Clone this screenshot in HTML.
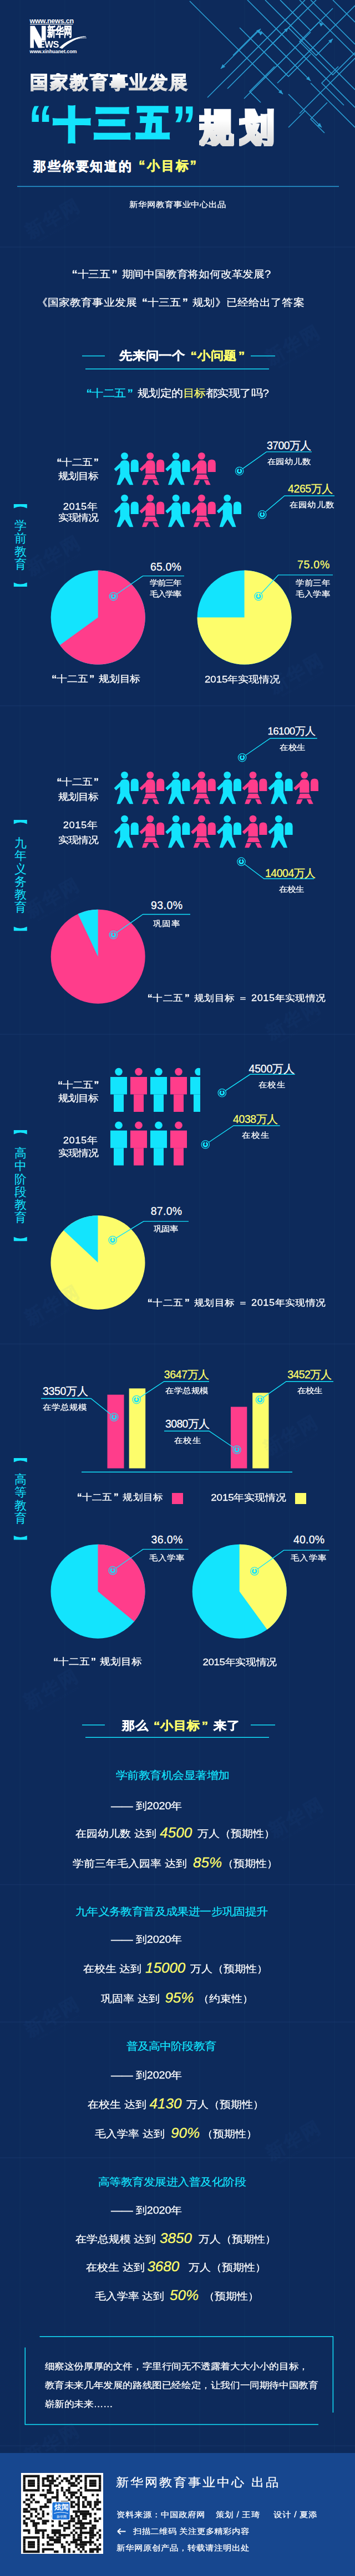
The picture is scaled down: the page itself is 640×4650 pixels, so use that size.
<!DOCTYPE html><html><head><meta charset="utf-8"><style>
html,body{margin:0;padding:0}
body{width:640px;height:4650px;position:relative;overflow:hidden;background:#0d2a5b;font-family:"Liberation Sans",sans-serif}
.t{position:absolute;line-height:1;white-space:nowrap;z-index:3}
.c{width:800px;text-align:center}
.r{width:800px;text-align:right}
.y{color:#fdfd6b} .cy{color:#13e4fd} .lq{font-weight:bold;margin-left:.42em;margin-right:0} .rq{font-weight:bold;margin-left:.12em;margin-right:.4em}
svg.full{position:absolute;left:0;top:0;z-index:2}
</style></head><body>
<div class="t" style="left:53.5px;top:32px;font-size:12.6px;color:#fff;font-weight:bold;letter-spacing:-0.25px">www.news.cn</div>
<div class="t" style="left:84.5px;top:46px;font-size:23px;color:#fff;transform:scaleX(0.66);transform-origin:0 0;font-weight:bold;-webkit-text-stroke:0.6px #fff">新华网</div>
<div class="t" style="left:70px;top:72.5px;font-size:16.5px;color:#fff;font-weight:bold;letter-spacing:-0.5px;transform:scaleY(0.95);transform-origin:0 0">EWS</div>
<div class="t" style="left:53.5px;top:89px;font-size:9px;color:#fff;font-weight:bold;letter-spacing:-0.1px">www.xinhuanet.com</div>
<div class="t" style="left:54px;top:131.5px;font-size:33px;color:#ffffff;font-weight:bold;letter-spacing:2.9px;-webkit-text-stroke:1.6px transparent;background:linear-gradient(#fff 20%,#d4d4d4);-webkit-background-clip:text;background-clip:text;color:transparent">国家教育事业发展</div>
<div class="t" style="left:98px;top:193px;font-size:64px;color:#13e4fd;font-weight:bold;-webkit-text-stroke:6px #13e4fd">十</div>
<div class="t" style="left:171px;top:191px;font-size:64px;color:#13e4fd;font-weight:bold;-webkit-text-stroke:6px #13e4fd">三</div>
<div class="t" style="left:247px;top:190px;font-size:64px;color:#13e4fd;font-weight:bold;-webkit-text-stroke:6px #13e4fd;transform:scaleX(0.9);transform-origin:0 0">五</div>
<div class="t" style="left:50.5px;top:176px;font-size:100px;color:#13e4fd;font-weight:bold;transform:scaleX(0.88);transform-origin:0 0">“</div>
<div class="t" style="left:310px;top:176px;font-size:100px;color:#13e4fd;font-weight:bold;transform:scaleX(0.88);transform-origin:0 0">”</div>
<div class="t" style="left:359px;top:196px;font-size:68px;color:#ffffff;font-weight:bold;-webkit-text-stroke:6px transparent;background:linear-gradient(#fff 30%,#dadada);-webkit-background-clip:text;background-clip:text;color:transparent;transform:scaleX(0.93);transform-origin:0 0">规</div>
<div class="t" style="left:431px;top:196px;font-size:68px;color:#ffffff;font-weight:bold;-webkit-text-stroke:6px transparent;background:linear-gradient(#fff 30%,#dadada);-webkit-background-clip:text;background-clip:text;color:transparent;transform:scaleX(0.93);transform-origin:0 0">划</div>
<div class="t" style="left:60px;top:289px;font-size:23px;color:#ffffff;font-weight:bold;letter-spacing:2.6px;-webkit-text-stroke:0.7px #fff">那些你要知道的</div>
<div class="t" style="left:250px;top:288px;font-size:23px;color:#fdfd6b;font-weight:bold;letter-spacing:3px;-webkit-text-stroke:0.7px #fdfd6b">“小目标”</div>
<div class="t" id="h4" style="left:232.90px;top:362.10px;font-size:16px;color:#ffffff;transform:scaleY(.9);transform-origin:0 0;;letter-spacing:-0.060px;-webkit-text-stroke:0.3px currentColor">新华网教育事业中心出品</div>
<div class="t" id="i1" style="left:121.00px;top:486.00px;font-size:20.4px;color:#ffffff;transform:scaleY(.9);transform-origin:0 0;;letter-spacing:-0.200px;-webkit-text-stroke:0.3px currentColor"><span class="lq">“</span>十三五<span class="rq">”</span>期间中国教育将如何改革发展?</div>
<div class="t" id="i2" style="left:65.80px;top:537.00px;font-size:20.4px;color:#ffffff;transform:scaleY(.9);transform-origin:0 0;;letter-spacing:0.139px;-webkit-text-stroke:0.3px currentColor">《国家教育事业发展<span class="lq">“</span>十三五<span class="rq">”</span>规划》已经给出了答案</div>
<div class="t" id="hd1" style="left:215.00px;top:632.00px;font-size:23px;color:#ffffff;transform:scaleY(.9);transform-origin:0 0;font-weight:bold;letter-spacing:0px;-webkit-text-stroke:0.7px currentColor;letter-spacing:0.778px">先来问一个<span class="y"><span class="lq">“</span>小问题<span class="rq">”</span></span></div>
<div class="t" id="q1" style="left:146.80px;top:701.10px;font-size:20.6px;color:#ffffff;transform:scaleY(.9);transform-origin:0 0;;letter-spacing:-0.452px;-webkit-text-stroke:0.3px currentColor"><span class="cy"><span class="lq">“</span>十二五<span class="rq">”</span></span>规划定的<span class="y">目标</span>都实现了吗?</div>
<div class="t" id="s1a" style="left:94.50px;top:826.00px;font-size:18.5px;color:#ffffff;transform:scaleY(.9);transform-origin:0 0;;letter-spacing:-0.500px;-webkit-text-stroke:0.3px currentColor"><span class="lq">“</span>十二五<span class="rq">”</span></div>
<div class="t" id="s1b" style="left:105.00px;top:850.50px;font-size:18.5px;color:#ffffff;transform:scaleY(.9);transform-origin:0 0;;letter-spacing:-1.000px;-webkit-text-stroke:0.3px currentColor">规划目标</div>
<div class="t" id="s1c" style="left:113.80px;top:905.70px;font-size:18.5px;color:#ffffff;transform:scaleY(.9);transform-origin:0 0;;letter-spacing:0.450px;-webkit-text-stroke:0.3px currentColor">2015年</div>
<div class="t" id="s1d" style="left:104.80px;top:926.00px;font-size:18.5px;color:#ffffff;transform:scaleY(.9);transform-origin:0 0;;letter-spacing:-1.066px;-webkit-text-stroke:0.3px currentColor">实现情况</div>
<div class="t" id="n3700" style="left:481.00px;top:794.80px;font-size:19.5px;color:#ffffff;;letter-spacing:-0.600px;-webkit-text-stroke:0.3px currentColor">3700万人</div>
<div class="t" id="n3700s" style="left:481.80px;top:825.90px;font-size:16px;color:#ffffff;transform:scaleY(.9);transform-origin:0 0;;letter-spacing:-0.300px;-webkit-text-stroke:0.3px currentColor">在园幼儿数</div>
<div class="t" id="n4265" style="left:519.00px;top:872.50px;font-size:19.5px;color:#fdfd6b;;letter-spacing:-0.400px;-webkit-text-stroke:0.3px currentColor">4265万人</div>
<div class="t" id="n4265s" style="left:521.70px;top:903.50px;font-size:16px;color:#ffffff;transform:scaleY(.9);transform-origin:0 0;;letter-spacing:0.300px;-webkit-text-stroke:0.3px currentColor">在园幼儿数</div>
<div class="t" style="left:25.8px;top:937px;font-size:22px;line-height:23.3px;width:22px;white-space:normal;color:#13e4fd">学前教育</div>
<div class="t" id="p65" style="left:271.00px;top:1013.80px;font-size:19.5px;color:#ffffff;;letter-spacing:0.150px;-webkit-text-stroke:0.3px currentColor">65.0%</div>
<div class="t" id="p65s" style="left:270.00px;top:1043.00px;font-size:15px;color:#ffffff;transform:scaleY(.9);transform-origin:0 0;line-height:22.2px;letter-spacing:-1.001px;-webkit-text-stroke:0.3px currentColor">学前三年<br>毛入学率</div>
<div class="t" id="p75" style="left:536.00px;top:1010.00px;font-size:19.5px;color:#fdfd6b;;letter-spacing:0.750px;-webkit-text-stroke:0.3px currentColor">75.0%</div>
<div class="t" id="p75s" style="left:533.00px;top:1043.00px;font-size:15px;color:#ffffff;transform:scaleY(.9);transform-origin:0 0;line-height:22.2px;letter-spacing:0.715px;-webkit-text-stroke:0.3px currentColor">学前三年<br>毛入学率</div>
<div class="t" id="s1e" style="left:85.00px;top:1217.00px;font-size:18.8px;color:#ffffff;transform:scaleY(.9);transform-origin:0 0;;letter-spacing:-0.123px;-webkit-text-stroke:0.3px currentColor"><span class="lq">“</span>十二五<span class="rq">”</span>规划目标</div>
<div class="t" id="s1f" style="left:369.00px;top:1218.00px;font-size:18.8px;color:#ffffff;transform:scaleY(.9);transform-origin:0 0;;letter-spacing:-0.127px;-webkit-text-stroke:0.3px currentColor">2015年实现情况</div>
<div class="t" id="n16100" style="left:482.40px;top:1311.00px;font-size:18.8px;color:#ffffff;;letter-spacing:-0.600px;-webkit-text-stroke:0.3px currentColor">16100万人</div>
<div class="t" id="n16100s" style="left:504.00px;top:1342.00px;font-size:16px;color:#ffffff;transform:scaleY(.9);transform-origin:0 0;;letter-spacing:-0.500px;-webkit-text-stroke:0.3px currentColor">在校生</div>
<div class="t" id="s2a" style="left:94.50px;top:1402.50px;font-size:18.5px;color:#ffffff;transform:scaleY(.9);transform-origin:0 0;;letter-spacing:-0.500px;-webkit-text-stroke:0.3px currentColor"><span class="lq">“</span>十二五<span class="rq">”</span></div>
<div class="t" id="s2b" style="left:105.00px;top:1429.60px;font-size:18.5px;color:#ffffff;transform:scaleY(.9);transform-origin:0 0;;letter-spacing:-1.000px;-webkit-text-stroke:0.3px currentColor">规划目标</div>
<div class="t" id="s2c" style="left:113.80px;top:1481.00px;font-size:18.5px;color:#ffffff;transform:scaleY(.9);transform-origin:0 0;;letter-spacing:0.450px;-webkit-text-stroke:0.3px currentColor">2015年</div>
<div class="t" id="s2d" style="left:104.80px;top:1507.80px;font-size:18.5px;color:#ffffff;transform:scaleY(.9);transform-origin:0 0;;letter-spacing:-1.066px;-webkit-text-stroke:0.3px currentColor">实现情况</div>
<div class="t" id="n14004" style="left:478.00px;top:1566.60px;font-size:19.5px;color:#fdfd6b;;letter-spacing:-0.500px;-webkit-text-stroke:0.3px currentColor">14004万人</div>
<div class="t" id="n14004s" style="left:503.00px;top:1597.60px;font-size:16px;color:#ffffff;transform:scaleY(.9);transform-origin:0 0;;letter-spacing:-1.000px;-webkit-text-stroke:0.3px currentColor">在校生</div>
<div class="t" style="left:25.8px;top:1510px;font-size:22px;line-height:23.3px;width:22px;white-space:normal;color:#13e4fd">九年义务教育</div>
<div class="t" id="p93" style="left:272.00px;top:1625.00px;font-size:19.5px;color:#ffffff;;letter-spacing:0.450px;-webkit-text-stroke:0.3px currentColor">93.0%</div>
<div class="t" id="p93s" style="left:275.60px;top:1659.50px;font-size:16px;color:#ffffff;transform:scaleY(.9);transform-origin:0 0;;letter-spacing:0.800px;-webkit-text-stroke:0.3px currentColor">巩固率</div>
<div class="t" id="eq1" style="left:258.00px;top:1792.70px;font-size:18.25px;color:#ffffff;transform:scaleY(.9);transform-origin:0 0;;letter-spacing:0.460px;-webkit-text-stroke:0.3px currentColor"><span class="lq">“</span>十二五<span class="rq">”</span>规划目标 ＝ 2015年实现情况</div>
<div class="t" id="s3a" style="left:96.30px;top:1950.30px;font-size:18.5px;color:#ffffff;transform:scaleY(.9);transform-origin:0 0;;letter-spacing:-0.800px;-webkit-text-stroke:0.3px currentColor"><span class="lq">“</span>十二五<span class="rq">”</span></div>
<div class="t" id="s3b" style="left:105.00px;top:1974.00px;font-size:18.5px;color:#ffffff;transform:scaleY(.9);transform-origin:0 0;;letter-spacing:-1.000px;-webkit-text-stroke:0.3px currentColor">规划目标</div>
<div class="t" id="s3c" style="left:113.80px;top:2050.00px;font-size:18.5px;color:#ffffff;transform:scaleY(.9);transform-origin:0 0;;letter-spacing:0.450px;-webkit-text-stroke:0.3px currentColor">2015年</div>
<div class="t" id="s3d" style="left:104.80px;top:2073.00px;font-size:18.5px;color:#ffffff;transform:scaleY(.9);transform-origin:0 0;;letter-spacing:-1.066px;-webkit-text-stroke:0.3px currentColor">实现情况</div>
<div class="t" id="n4500" style="left:448.50px;top:1919.60px;font-size:19.5px;color:#ffffff;;letter-spacing:-0.200px;-webkit-text-stroke:0.3px currentColor">4500万人</div>
<div class="t" id="n4500s" style="left:466.00px;top:1951.00px;font-size:16px;color:#ffffff;transform:scaleY(.9);transform-origin:0 0;;letter-spacing:0.300px;-webkit-text-stroke:0.3px currentColor">在校生</div>
<div class="t" id="n4038" style="left:420.00px;top:2011.30px;font-size:19.5px;color:#fdfd6b;;letter-spacing:-0.400px;-webkit-text-stroke:0.3px currentColor">4038万人</div>
<div class="t" id="n4038s" style="left:436.00px;top:2042.00px;font-size:16px;color:#ffffff;transform:scaleY(.9);transform-origin:0 0;;letter-spacing:1.000px;-webkit-text-stroke:0.3px currentColor">在校生</div>
<div class="t" style="left:25.8px;top:2070px;font-size:22px;line-height:23.3px;width:22px;white-space:normal;color:#13e4fd">高中阶段教育</div>
<div class="t" id="p87" style="left:271.70px;top:2177.00px;font-size:19.5px;color:#ffffff;;letter-spacing:0.300px;-webkit-text-stroke:0.3px currentColor">87.0%</div>
<div class="t" id="p87s" style="left:276.80px;top:2210.70px;font-size:16px;color:#ffffff;transform:scaleY(.9);transform-origin:0 0;;letter-spacing:-1.600px;-webkit-text-stroke:0.3px currentColor">巩固率</div>
<div class="t" id="eq2" style="left:258.00px;top:2342.70px;font-size:18.25px;color:#ffffff;transform:scaleY(.9);transform-origin:0 0;;letter-spacing:0.460px;-webkit-text-stroke:0.3px currentColor"><span class="lq">“</span>十二五<span class="rq">”</span>规划目标 ＝ 2015年实现情况</div>
<div class="t" id="n3350" style="left:77.00px;top:2502.00px;font-size:19.5px;color:#ffffff;;letter-spacing:-0.320px;-webkit-text-stroke:0.3px currentColor">3350万人</div>
<div class="t" id="n3350s" style="left:77.00px;top:2533.00px;font-size:16px;color:#ffffff;transform:scaleY(.9);transform-origin:0 0;;letter-spacing:0.050px;-webkit-text-stroke:0.3px currentColor">在学总规模</div>
<div class="t" id="n3647" style="left:295.80px;top:2471.60px;font-size:19.5px;color:#fdfd6b;;letter-spacing:-0.400px;-webkit-text-stroke:0.3px currentColor">3647万人</div>
<div class="t" id="n3647s" style="left:298.00px;top:2503.00px;font-size:16px;color:#ffffff;transform:scaleY(.9);transform-origin:0 0;;letter-spacing:-0.500px;-webkit-text-stroke:0.3px currentColor">在学总规模</div>
<div class="t" id="n3080" style="left:298.00px;top:2560.60px;font-size:19.5px;color:#ffffff;;letter-spacing:-0.640px;-webkit-text-stroke:0.3px currentColor">3080万人</div>
<div class="t" id="n3080s" style="left:313.80px;top:2593.00px;font-size:16px;color:#ffffff;transform:scaleY(.9);transform-origin:0 0;;letter-spacing:0.500px;-webkit-text-stroke:0.3px currentColor">在校生</div>
<div class="t" id="n3452" style="left:518.30px;top:2471.60px;font-size:19.5px;color:#fdfd6b;;letter-spacing:-0.640px;-webkit-text-stroke:0.3px currentColor">3452万人</div>
<div class="t" id="n3452s" style="left:536.30px;top:2503.00px;font-size:16px;color:#ffffff;transform:scaleY(.9);transform-origin:0 0;;letter-spacing:-1.300px;-webkit-text-stroke:0.3px currentColor">在校生</div>
<div class="t" id="leg1" style="left:131.00px;top:2693.70px;font-size:18.2px;color:#ffffff;transform:scaleY(.9);transform-origin:0 0;;letter-spacing:0.225px;-webkit-text-stroke:0.3px currentColor"><span class="lq">“</span>十二五<span class="rq">”</span>规划目标</div>
<div class="t" id="leg2" style="left:380.30px;top:2694.70px;font-size:18.8px;color:#ffffff;transform:scaleY(.9);transform-origin:0 0;;letter-spacing:-0.152px;-webkit-text-stroke:0.3px currentColor">2015年实现情况</div>
<div class="t" style="left:25.8px;top:2659px;font-size:22px;line-height:23.3px;width:22px;white-space:normal;color:#13e4fd">高等教育</div>
<div class="t" id="p36" style="left:272.50px;top:2769.80px;font-size:19.5px;color:#ffffff;;letter-spacing:0.400px;-webkit-text-stroke:0.3px currentColor">36.0%</div>
<div class="t" id="p36s" style="left:269.00px;top:2805.00px;font-size:16px;color:#ffffff;transform:scaleY(.9);transform-origin:0 0;;letter-spacing:-0.000px;-webkit-text-stroke:0.3px currentColor">毛入学率</div>
<div class="t" id="p40" style="left:529.00px;top:2770.40px;font-size:19.5px;color:#ffffff;;letter-spacing:0.200px;-webkit-text-stroke:0.3px currentColor">40.0%</div>
<div class="t" id="p40s" style="left:524.00px;top:2804.60px;font-size:16px;color:#ffffff;transform:scaleY(.9);transform-origin:0 0;;letter-spacing:0.334px;-webkit-text-stroke:0.3px currentColor">毛入学率</div>
<div class="t" id="s4e" style="left:88.00px;top:2991.30px;font-size:18.8px;color:#ffffff;transform:scaleY(.9);transform-origin:0 0;;letter-spacing:-0.225px;-webkit-text-stroke:0.3px currentColor"><span class="lq">“</span>十二五<span class="rq">”</span>规划目标</div>
<div class="t" id="s4f" style="left:365.40px;top:2992.30px;font-size:18.8px;color:#ffffff;transform:scaleY(.9);transform-origin:0 0;;letter-spacing:-0.377px;-webkit-text-stroke:0.3px currentColor">2015年实现情况</div>
<div class="t" id="hd2" style="left:219.70px;top:3105.00px;font-size:23px;color:#ffffff;transform:scaleY(.9);transform-origin:0 0;font-weight:bold;letter-spacing:0px;-webkit-text-stroke:0.7px currentColor;letter-spacing:0.850px">那么<span class="y"><span class="lq">“</span>小目标<span class="rq">”</span></span>来了</div>
<div class="t" id="g1h" style="left:208.60px;top:3195.20px;font-size:21px;color:#13e4fd;transform:scaleY(.9);transform-origin:0 0;;letter-spacing:-0.467px;-webkit-text-stroke:0.3px currentColor">学前教育机会显著增加</div>
<div class="t" id="g1d" style="left:200.00px;top:3250.80px;font-size:20px;color:#ffffff;transform:scaleY(.9);transform-origin:0 0;;letter-spacing:-0.200px;-webkit-text-stroke:0.3px currentColor">—— 到2020年</div>
<div class="t" id="g1r0a" style="left:136.30px;top:3300.70px;font-size:20.3px;color:#ffffff;transform:scaleY(.9);transform-origin:0 0;;-webkit-text-stroke:0.3px currentColor">在园幼儿数 达到</div>
<div class="t" id="g1r0n" style="left:288.30px;top:3295.10px;font-size:26px;color:#fdfd6b;font-style:italic;-webkit-text-stroke:0.3px currentColor">4500</div>
<div class="t" id="g1r0b" style="left:356.10px;top:3300.70px;font-size:20.3px;color:#ffffff;transform:scaleY(.9);transform-origin:0 0;;-webkit-text-stroke:0.3px currentColor">万人（预期性）</div>
<div class="t" id="g1r1a" style="left:131.40px;top:3355.00px;font-size:20.3px;color:#ffffff;transform:scaleY(.9);transform-origin:0 0;;-webkit-text-stroke:0.3px currentColor">学前三年毛入园率 达到</div>
<div class="t" id="g1r1n" style="left:348.00px;top:3349.40px;font-size:26px;color:#fdfd6b;font-style:italic;-webkit-text-stroke:0.3px currentColor">85%</div>
<div class="t" id="g1r1b" style="left:400.70px;top:3355.00px;font-size:20.3px;color:#ffffff;transform:scaleY(.9);transform-origin:0 0;;-webkit-text-stroke:0.3px currentColor">（预期性）</div>
<div class="t" id="g2h" style="left:135.80px;top:3440.70px;font-size:21px;color:#13e4fd;transform:scaleY(.9);transform-origin:0 0;;letter-spacing:-0.601px;-webkit-text-stroke:0.3px currentColor">九年义务教育普及成果进一步巩固提升</div>
<div class="t" id="g2d" style="left:200.00px;top:3492.00px;font-size:20px;color:#ffffff;transform:scaleY(.9);transform-origin:0 0;;letter-spacing:-0.200px;-webkit-text-stroke:0.3px currentColor">—— 到2020年</div>
<div class="t" id="g2r0a" style="left:149.70px;top:3544.70px;font-size:20.3px;color:#ffffff;transform:scaleY(.9);transform-origin:0 0;;-webkit-text-stroke:0.3px currentColor">在校生 达到</div>
<div class="t" id="g2r0n" style="left:262.00px;top:3539.10px;font-size:26px;color:#fdfd6b;font-style:italic;-webkit-text-stroke:0.3px currentColor">15000</div>
<div class="t" id="g2r0b" style="left:343.00px;top:3544.70px;font-size:20.3px;color:#ffffff;transform:scaleY(.9);transform-origin:0 0;;-webkit-text-stroke:0.3px currentColor">万人（预期性）</div>
<div class="t" id="g2r1a" style="left:182.30px;top:3598.50px;font-size:20.3px;color:#ffffff;transform:scaleY(.9);transform-origin:0 0;;-webkit-text-stroke:0.3px currentColor">巩固率 达到</div>
<div class="t" id="g2r1n" style="left:297.40px;top:3592.90px;font-size:26px;color:#fdfd6b;font-style:italic;-webkit-text-stroke:0.3px currentColor">95%</div>
<div class="t" id="g2r1b" style="left:356.70px;top:3598.50px;font-size:20.3px;color:#ffffff;transform:scaleY(.9);transform-origin:0 0;;-webkit-text-stroke:0.3px currentColor">（约束性）</div>
<div class="t" id="g3h" style="left:227.60px;top:3683.70px;font-size:21px;color:#13e4fd;transform:scaleY(.9);transform-origin:0 0;;letter-spacing:-0.828px;-webkit-text-stroke:0.3px currentColor">普及高中阶段教育</div>
<div class="t" id="g3d" style="left:200.00px;top:3737.00px;font-size:20px;color:#ffffff;transform:scaleY(.9);transform-origin:0 0;;letter-spacing:-0.200px;-webkit-text-stroke:0.3px currentColor">—— 到2020年</div>
<div class="t" id="g3r0a" style="left:158.00px;top:3789.70px;font-size:20.3px;color:#ffffff;transform:scaleY(.9);transform-origin:0 0;;-webkit-text-stroke:0.3px currentColor">在校生 达到</div>
<div class="t" id="g3r0n" style="left:269.60px;top:3784.10px;font-size:26px;color:#fdfd6b;font-style:italic;-webkit-text-stroke:0.3px currentColor">4130</div>
<div class="t" id="g3r0b" style="left:335.70px;top:3789.70px;font-size:20.3px;color:#ffffff;transform:scaleY(.9);transform-origin:0 0;;-webkit-text-stroke:0.3px currentColor">万人（预期性）</div>
<div class="t" id="g3r1a" style="left:171.00px;top:3843.00px;font-size:20.3px;color:#ffffff;transform:scaleY(.9);transform-origin:0 0;;-webkit-text-stroke:0.3px currentColor">毛入学率 达到</div>
<div class="t" id="g3r1n" style="left:308.00px;top:3837.40px;font-size:26px;color:#fdfd6b;font-style:italic;-webkit-text-stroke:0.3px currentColor">90%</div>
<div class="t" id="g3r1b" style="left:364.40px;top:3843.00px;font-size:20.3px;color:#ffffff;transform:scaleY(.9);transform-origin:0 0;;-webkit-text-stroke:0.3px currentColor">（预期性）</div>
<div class="t" id="g4h" style="left:177.00px;top:3928.60px;font-size:21px;color:#13e4fd;transform:scaleY(.9);transform-origin:0 0;;letter-spacing:-0.533px;-webkit-text-stroke:0.3px currentColor">高等教育发展进入普及化阶段</div>
<div class="t" id="g4d" style="left:200.00px;top:3980.80px;font-size:20px;color:#ffffff;transform:scaleY(.9);transform-origin:0 0;;letter-spacing:-0.200px;-webkit-text-stroke:0.3px currentColor">—— 到2020年</div>
<div class="t" id="g4r0a" style="left:135.80px;top:4033.00px;font-size:20.3px;color:#ffffff;transform:scaleY(.9);transform-origin:0 0;;-webkit-text-stroke:0.3px currentColor">在学总规模 达到</div>
<div class="t" id="g4r0n" style="left:288.00px;top:4027.40px;font-size:26px;color:#fdfd6b;font-style:italic;-webkit-text-stroke:0.3px currentColor">3850</div>
<div class="t" id="g4r0b" style="left:358.20px;top:4033.00px;font-size:20.3px;color:#ffffff;transform:scaleY(.9);transform-origin:0 0;;-webkit-text-stroke:0.3px currentColor">万人（预期性）</div>
<div class="t" id="g4r1a" style="left:155.00px;top:4083.70px;font-size:20.3px;color:#ffffff;transform:scaleY(.9);transform-origin:0 0;;-webkit-text-stroke:0.3px currentColor">在校生 达到</div>
<div class="t" id="g4r1n" style="left:265.40px;top:4078.10px;font-size:26px;color:#fdfd6b;font-style:italic;-webkit-text-stroke:0.3px currentColor">3680</div>
<div class="t" id="g4r1b" style="left:339.60px;top:4083.70px;font-size:20.3px;color:#ffffff;transform:scaleY(.9);transform-origin:0 0;;-webkit-text-stroke:0.3px currentColor">万人（预期性）</div>
<div class="t" id="g4r2a" style="left:170.70px;top:4136.00px;font-size:20.3px;color:#ffffff;transform:scaleY(.9);transform-origin:0 0;;-webkit-text-stroke:0.3px currentColor">毛入学率 达到</div>
<div class="t" id="g4r2n" style="left:306.00px;top:4130.40px;font-size:26px;color:#fdfd6b;font-style:italic;-webkit-text-stroke:0.3px currentColor">50%</div>
<div class="t" id="g4r2b" style="left:367.20px;top:4136.00px;font-size:20.3px;color:#ffffff;transform:scaleY(.9);transform-origin:0 0;;-webkit-text-stroke:0.3px currentColor">（预期性）</div>
<div class="t" id="cl" style="left:80.70px;top:4254.50px;font-size:17.65px;color:#ffffff;transform:scaleY(.9);transform-origin:0 0;line-height:37.9px;letter-spacing:-0.404px;-webkit-text-stroke:0.3px currentColor">细察这份厚厚的文件，字里行间无不透露着大大小小的目标，<br>教育未来几年发展的路线图已经绘定，让我们一同期待中国教育<br>&#x5D2D;新的未来……</div>
<div style="position:absolute;left:0;top:4427.5px;width:640px;height:223px;background:#17478f;z-index:5"></div>
<div style="position:absolute;left:37.7px;top:4464px;width:148.6px;height:145.7px;background:#fff;z-index:6"></div>
<div class="t" id="ft1" style="left:209.00px;top:4471.00px;font-size:23px;color:#ffffff;transform:scaleY(.9);transform-origin:0 0;z-index:7;letter-spacing:3.1px;letter-spacing:3.019px;-webkit-text-stroke:0.3px currentColor">新华网教育事业中心 出品</div>
<div class="t" id="ft2a" style="left:210.40px;top:4531.80px;font-size:15.8px;color:#ffffff;transform:scaleY(.9);transform-origin:0 0;z-index:7;-webkit-text-stroke:0.3px currentColor">资料来源：中国政府网</div>
<div class="t" id="ft2b" style="left:388.50px;top:4531.80px;font-size:15.8px;color:#ffffff;transform:scaleY(.9);transform-origin:0 0;z-index:7;letter-spacing:0.500px;-webkit-text-stroke:0.3px currentColor">策划 / 王琦</div>
<div class="t" id="ft2c" style="left:493.00px;top:4531.80px;font-size:15.8px;color:#ffffff;transform:scaleY(.9);transform-origin:0 0;z-index:7;letter-spacing:0.267px;-webkit-text-stroke:0.3px currentColor">设计 / 夏添</div>
<div class="t" id="ft3b" style="left:239.80px;top:4562.00px;font-size:15.8px;color:#ffffff;transform:scaleY(.9);transform-origin:0 0;z-index:7;letter-spacing:-0.186px;-webkit-text-stroke:0.3px currentColor">扫描二维码 关注更多精彩内容</div>
<div class="t" id="ft4" style="left:210.40px;top:4591.70px;font-size:15.8px;color:#ffffff;transform:scaleY(.9);transform-origin:0 0;z-index:7;letter-spacing:-0.058px;-webkit-text-stroke:0.3px currentColor">新华网原创产品，转载请注明出处</div>
<div style="position:absolute;left:31px;top:376px;width:140px;height:56px;transform:rotate(-30deg);z-index:4;color:rgba(70,130,210,0.055);text-align:center;font-family:'Liberation Sans',sans-serif;line-height:1"><div style="font-size:33px;font-weight:bold;-webkit-text-stroke:1.5px rgba(70,130,210,0.055);letter-spacing:3px">新华网</div><div style="font-size:9px;margin-top:2px;font-weight:bold">www.xinhuanet.com</div></div>
<div style="position:absolute;left:32px;top:984px;width:140px;height:56px;transform:rotate(-30deg);z-index:4;color:rgba(70,130,210,0.055);text-align:center;font-family:'Liberation Sans',sans-serif;line-height:1"><div style="font-size:33px;font-weight:bold;-webkit-text-stroke:1.5px rgba(70,130,210,0.055);letter-spacing:3px">新华网</div><div style="font-size:9px;margin-top:2px;font-weight:bold">www.xinhuanet.com</div></div>
<div style="position:absolute;left:30px;top:1602px;width:140px;height:56px;transform:rotate(-30deg);z-index:4;color:rgba(70,130,210,0.055);text-align:center;font-family:'Liberation Sans',sans-serif;line-height:1"><div style="font-size:33px;font-weight:bold;-webkit-text-stroke:1.5px rgba(70,130,210,0.055);letter-spacing:3px">新华网</div><div style="font-size:9px;margin-top:2px;font-weight:bold">www.xinhuanet.com</div></div>
<div style="position:absolute;left:30px;top:2337px;width:140px;height:56px;transform:rotate(-30deg);z-index:4;color:rgba(70,130,210,0.055);text-align:center;font-family:'Liberation Sans',sans-serif;line-height:1"><div style="font-size:33px;font-weight:bold;-webkit-text-stroke:1.5px rgba(70,130,210,0.055);letter-spacing:3px">新华网</div><div style="font-size:9px;margin-top:2px;font-weight:bold">www.xinhuanet.com</div></div>
<div style="position:absolute;left:28px;top:3030px;width:140px;height:56px;transform:rotate(-30deg);z-index:4;color:rgba(70,130,210,0.055);text-align:center;font-family:'Liberation Sans',sans-serif;line-height:1"><div style="font-size:33px;font-weight:bold;-webkit-text-stroke:1.5px rgba(70,130,210,0.055);letter-spacing:3px">新华网</div><div style="font-size:9px;margin-top:2px;font-weight:bold">www.xinhuanet.com</div></div>
<div style="position:absolute;left:30px;top:3622px;width:140px;height:56px;transform:rotate(-30deg);z-index:4;color:rgba(70,130,210,0.055);text-align:center;font-family:'Liberation Sans',sans-serif;line-height:1"><div style="font-size:33px;font-weight:bold;-webkit-text-stroke:1.5px rgba(70,130,210,0.055);letter-spacing:3px">新华网</div><div style="font-size:9px;margin-top:2px;font-weight:bold">www.xinhuanet.com</div></div>
<div style="position:absolute;left:30px;top:4392px;width:140px;height:56px;transform:rotate(-30deg);z-index:4;color:rgba(70,130,210,0.055);text-align:center;font-family:'Liberation Sans',sans-serif;line-height:1"><div style="font-size:33px;font-weight:bold;-webkit-text-stroke:1.5px rgba(70,130,210,0.055);letter-spacing:3px">新华网</div><div style="font-size:9px;margin-top:2px;font-weight:bold">www.xinhuanet.com</div></div>
<div style="position:absolute;left:464px;top:604px;width:140px;height:56px;transform:rotate(-30deg);z-index:4;color:rgba(70,130,210,0.055);text-align:center;font-family:'Liberation Sans',sans-serif;line-height:1"><div style="font-size:33px;font-weight:bold;-webkit-text-stroke:1.5px rgba(70,130,210,0.055);letter-spacing:3px">新华网</div><div style="font-size:9px;margin-top:2px;font-weight:bold">www.xinhuanet.com</div></div>
<div style="position:absolute;left:470px;top:1197px;width:140px;height:56px;transform:rotate(-30deg);z-index:4;color:rgba(70,130,210,0.055);text-align:center;font-family:'Liberation Sans',sans-serif;line-height:1"><div style="font-size:33px;font-weight:bold;-webkit-text-stroke:1.5px rgba(70,130,210,0.055);letter-spacing:3px">新华网</div><div style="font-size:9px;margin-top:2px;font-weight:bold">www.xinhuanet.com</div></div>
<div style="position:absolute;left:465px;top:1822px;width:140px;height:56px;transform:rotate(-30deg);z-index:4;color:rgba(70,130,210,0.055);text-align:center;font-family:'Liberation Sans',sans-serif;line-height:1"><div style="font-size:33px;font-weight:bold;-webkit-text-stroke:1.5px rgba(70,130,210,0.055);letter-spacing:3px">新华网</div><div style="font-size:9px;margin-top:2px;font-weight:bold">www.xinhuanet.com</div></div>
<div style="position:absolute;left:460px;top:2572px;width:140px;height:56px;transform:rotate(-30deg);z-index:4;color:rgba(70,130,210,0.055);text-align:center;font-family:'Liberation Sans',sans-serif;line-height:1"><div style="font-size:33px;font-weight:bold;-webkit-text-stroke:1.5px rgba(70,130,210,0.055);letter-spacing:3px">新华网</div><div style="font-size:9px;margin-top:2px;font-weight:bold">www.xinhuanet.com</div></div>
<div style="position:absolute;left:470px;top:3262px;width:140px;height:56px;transform:rotate(-30deg);z-index:4;color:rgba(70,130,210,0.055);text-align:center;font-family:'Liberation Sans',sans-serif;line-height:1"><div style="font-size:33px;font-weight:bold;-webkit-text-stroke:1.5px rgba(70,130,210,0.055);letter-spacing:3px">新华网</div><div style="font-size:9px;margin-top:2px;font-weight:bold">www.xinhuanet.com</div></div>
<div style="position:absolute;left:465px;top:3845px;width:140px;height:56px;transform:rotate(-30deg);z-index:4;color:rgba(70,130,210,0.055);text-align:center;font-family:'Liberation Sans',sans-serif;line-height:1"><div style="font-size:33px;font-weight:bold;-webkit-text-stroke:1.5px rgba(70,130,210,0.055);letter-spacing:3px">新华网</div><div style="font-size:9px;margin-top:2px;font-weight:bold">www.xinhuanet.com</div></div>
<svg width="640" height="4650" viewBox="0 0 640 4650" style="position:absolute;left:0;top:0;z-index:6" xmlns="http://www.w3.org/2000/svg"><g fill="#151515"><rect x="41.60" y="4467.60" width="29.92" height="4.36"/><rect x="84.20" y="4467.60" width="12.88" height="4.36"/><rect x="105.50" y="4467.60" width="4.36" height="4.36"/><rect x="126.80" y="4467.60" width="8.62" height="4.36"/><rect x="139.58" y="4467.60" width="8.62" height="4.36"/><rect x="152.36" y="4467.60" width="29.92" height="4.36"/><rect x="41.60" y="4471.86" width="4.36" height="4.36"/><rect x="67.16" y="4471.86" width="4.36" height="4.36"/><rect x="75.68" y="4471.86" width="12.88" height="4.36"/><rect x="92.72" y="4471.86" width="4.36" height="4.36"/><rect x="101.24" y="4471.86" width="4.36" height="4.36"/><rect x="114.02" y="4471.86" width="8.62" height="4.36"/><rect x="126.80" y="4471.86" width="4.36" height="4.36"/><rect x="135.32" y="4471.86" width="8.62" height="4.36"/><rect x="152.36" y="4471.86" width="4.36" height="4.36"/><rect x="177.92" y="4471.86" width="4.36" height="4.36"/><rect x="41.60" y="4476.12" width="4.36" height="4.36"/><rect x="50.12" y="4476.12" width="12.88" height="4.36"/><rect x="67.16" y="4476.12" width="4.36" height="4.36"/><rect x="75.68" y="4476.12" width="4.36" height="4.36"/><rect x="84.20" y="4476.12" width="17.14" height="4.36"/><rect x="109.76" y="4476.12" width="4.36" height="4.36"/><rect x="118.28" y="4476.12" width="8.62" height="4.36"/><rect x="135.32" y="4476.12" width="4.36" height="4.36"/><rect x="143.84" y="4476.12" width="4.36" height="4.36"/><rect x="152.36" y="4476.12" width="4.36" height="4.36"/><rect x="160.88" y="4476.12" width="12.88" height="4.36"/><rect x="177.92" y="4476.12" width="4.36" height="4.36"/><rect x="41.60" y="4480.38" width="4.36" height="4.36"/><rect x="50.12" y="4480.38" width="12.88" height="4.36"/><rect x="67.16" y="4480.38" width="4.36" height="4.36"/><rect x="75.68" y="4480.38" width="4.36" height="4.36"/><rect x="88.46" y="4480.38" width="8.62" height="4.36"/><rect x="105.50" y="4480.38" width="4.36" height="4.36"/><rect x="122.54" y="4480.38" width="12.88" height="4.36"/><rect x="139.58" y="4480.38" width="4.36" height="4.36"/><rect x="152.36" y="4480.38" width="4.36" height="4.36"/><rect x="160.88" y="4480.38" width="12.88" height="4.36"/><rect x="177.92" y="4480.38" width="4.36" height="4.36"/><rect x="41.60" y="4484.64" width="4.36" height="4.36"/><rect x="50.12" y="4484.64" width="12.88" height="4.36"/><rect x="67.16" y="4484.64" width="4.36" height="4.36"/><rect x="75.68" y="4484.64" width="17.14" height="4.36"/><rect x="96.98" y="4484.64" width="8.62" height="4.36"/><rect x="126.80" y="4484.64" width="12.88" height="4.36"/><rect x="152.36" y="4484.64" width="4.36" height="4.36"/><rect x="160.88" y="4484.64" width="12.88" height="4.36"/><rect x="177.92" y="4484.64" width="4.36" height="4.36"/><rect x="41.60" y="4488.90" width="4.36" height="4.36"/><rect x="67.16" y="4488.90" width="4.36" height="4.36"/><rect x="88.46" y="4488.90" width="4.36" height="4.36"/><rect x="109.76" y="4488.90" width="4.36" height="4.36"/><rect x="122.54" y="4488.90" width="4.36" height="4.36"/><rect x="143.84" y="4488.90" width="4.36" height="4.36"/><rect x="152.36" y="4488.90" width="4.36" height="4.36"/><rect x="177.92" y="4488.90" width="4.36" height="4.36"/><rect x="41.60" y="4493.16" width="29.92" height="4.36"/><rect x="75.68" y="4493.16" width="4.36" height="4.36"/><rect x="84.20" y="4493.16" width="8.62" height="4.36"/><rect x="101.24" y="4493.16" width="4.36" height="4.36"/><rect x="109.76" y="4493.16" width="4.36" height="4.36"/><rect x="118.28" y="4493.16" width="8.62" height="4.36"/><rect x="139.58" y="4493.16" width="4.36" height="4.36"/><rect x="152.36" y="4493.16" width="29.92" height="4.36"/><rect x="84.20" y="4497.42" width="12.88" height="4.36"/><rect x="101.24" y="4497.42" width="4.36" height="4.36"/><rect x="114.02" y="4497.42" width="4.36" height="4.36"/><rect x="122.54" y="4497.42" width="17.14" height="4.36"/><rect x="143.84" y="4497.42" width="4.36" height="4.36"/><rect x="45.86" y="4501.68" width="4.36" height="4.36"/><rect x="54.38" y="4501.68" width="8.62" height="4.36"/><rect x="71.42" y="4501.68" width="12.88" height="4.36"/><rect x="101.24" y="4501.68" width="4.36" height="4.36"/><rect x="114.02" y="4501.68" width="4.36" height="4.36"/><rect x="126.80" y="4501.68" width="8.62" height="4.36"/><rect x="143.84" y="4501.68" width="4.36" height="4.36"/><rect x="165.14" y="4501.68" width="4.36" height="4.36"/><rect x="173.66" y="4501.68" width="4.36" height="4.36"/><rect x="54.38" y="4505.94" width="4.36" height="4.36"/><rect x="79.94" y="4505.94" width="4.36" height="4.36"/><rect x="92.72" y="4505.94" width="12.88" height="4.36"/><rect x="118.28" y="4505.94" width="4.36" height="4.36"/><rect x="126.80" y="4505.94" width="4.36" height="4.36"/><rect x="135.32" y="4505.94" width="8.62" height="4.36"/><rect x="148.10" y="4505.94" width="8.62" height="4.36"/><rect x="45.86" y="4510.20" width="8.62" height="4.36"/><rect x="58.64" y="4510.20" width="4.36" height="4.36"/><rect x="84.20" y="4510.20" width="8.62" height="4.36"/><rect x="101.24" y="4510.20" width="4.36" height="4.36"/><rect x="122.54" y="4510.20" width="4.36" height="4.36"/><rect x="139.58" y="4510.20" width="4.36" height="4.36"/><rect x="152.36" y="4510.20" width="4.36" height="4.36"/><rect x="173.66" y="4510.20" width="4.36" height="4.36"/><rect x="41.60" y="4514.46" width="4.36" height="4.36"/><rect x="54.38" y="4514.46" width="4.36" height="4.36"/><rect x="62.90" y="4514.46" width="8.62" height="4.36"/><rect x="84.20" y="4514.46" width="8.62" height="4.36"/><rect x="101.24" y="4514.46" width="4.36" height="4.36"/><rect x="109.76" y="4514.46" width="12.88" height="4.36"/><rect x="126.80" y="4514.46" width="8.62" height="4.36"/><rect x="139.58" y="4514.46" width="4.36" height="4.36"/><rect x="148.10" y="4514.46" width="4.36" height="4.36"/><rect x="156.62" y="4514.46" width="8.62" height="4.36"/><rect x="169.40" y="4514.46" width="12.88" height="4.36"/><rect x="45.86" y="4518.72" width="8.62" height="4.36"/><rect x="79.94" y="4518.72" width="4.36" height="4.36"/><rect x="96.98" y="4518.72" width="8.62" height="4.36"/><rect x="109.76" y="4518.72" width="4.36" height="4.36"/><rect x="122.54" y="4518.72" width="8.62" height="4.36"/><rect x="135.32" y="4518.72" width="8.62" height="4.36"/><rect x="148.10" y="4518.72" width="4.36" height="4.36"/><rect x="156.62" y="4518.72" width="8.62" height="4.36"/><rect x="169.40" y="4518.72" width="8.62" height="4.36"/><rect x="50.12" y="4522.98" width="4.36" height="4.36"/><rect x="71.42" y="4522.98" width="17.14" height="4.36"/><rect x="101.24" y="4522.98" width="12.88" height="4.36"/><rect x="126.80" y="4522.98" width="8.62" height="4.36"/><rect x="139.58" y="4522.98" width="4.36" height="4.36"/><rect x="148.10" y="4522.98" width="8.62" height="4.36"/><rect x="160.88" y="4522.98" width="4.36" height="4.36"/><rect x="169.40" y="4522.98" width="4.36" height="4.36"/><rect x="41.60" y="4527.24" width="8.62" height="4.36"/><rect x="54.38" y="4527.24" width="12.88" height="4.36"/><rect x="71.42" y="4527.24" width="4.36" height="4.36"/><rect x="96.98" y="4527.24" width="4.36" height="4.36"/><rect x="118.28" y="4527.24" width="4.36" height="4.36"/><rect x="139.58" y="4527.24" width="4.36" height="4.36"/><rect x="165.14" y="4527.24" width="4.36" height="4.36"/><rect x="173.66" y="4527.24" width="8.62" height="4.36"/><rect x="41.60" y="4531.50" width="12.88" height="4.36"/><rect x="62.90" y="4531.50" width="4.36" height="4.36"/><rect x="75.68" y="4531.50" width="4.36" height="4.36"/><rect x="92.72" y="4531.50" width="4.36" height="4.36"/><rect x="118.28" y="4531.50" width="4.36" height="4.36"/><rect x="131.06" y="4531.50" width="29.92" height="4.36"/><rect x="54.38" y="4535.76" width="4.36" height="4.36"/><rect x="67.16" y="4535.76" width="4.36" height="4.36"/><rect x="75.68" y="4535.76" width="4.36" height="4.36"/><rect x="84.20" y="4535.76" width="4.36" height="4.36"/><rect x="96.98" y="4535.76" width="4.36" height="4.36"/><rect x="105.50" y="4535.76" width="4.36" height="4.36"/><rect x="118.28" y="4535.76" width="8.62" height="4.36"/><rect x="135.32" y="4535.76" width="4.36" height="4.36"/><rect x="143.84" y="4535.76" width="21.40" height="4.36"/><rect x="169.40" y="4535.76" width="4.36" height="4.36"/><rect x="41.60" y="4540.02" width="4.36" height="4.36"/><rect x="54.38" y="4540.02" width="4.36" height="4.36"/><rect x="62.90" y="4540.02" width="4.36" height="4.36"/><rect x="75.68" y="4540.02" width="4.36" height="4.36"/><rect x="92.72" y="4540.02" width="4.36" height="4.36"/><rect x="109.76" y="4540.02" width="4.36" height="4.36"/><rect x="118.28" y="4540.02" width="12.88" height="4.36"/><rect x="135.32" y="4540.02" width="8.62" height="4.36"/><rect x="148.10" y="4540.02" width="8.62" height="4.36"/><rect x="160.88" y="4540.02" width="4.36" height="4.36"/><rect x="45.86" y="4544.28" width="8.62" height="4.36"/><rect x="67.16" y="4544.28" width="8.62" height="4.36"/><rect x="96.98" y="4544.28" width="8.62" height="4.36"/><rect x="118.28" y="4544.28" width="17.14" height="4.36"/><rect x="139.58" y="4544.28" width="4.36" height="4.36"/><rect x="148.10" y="4544.28" width="8.62" height="4.36"/><rect x="169.40" y="4544.28" width="4.36" height="4.36"/><rect x="177.92" y="4544.28" width="4.36" height="4.36"/><rect x="41.60" y="4548.54" width="4.36" height="4.36"/><rect x="54.38" y="4548.54" width="8.62" height="4.36"/><rect x="75.68" y="4548.54" width="12.88" height="4.36"/><rect x="92.72" y="4548.54" width="4.36" height="4.36"/><rect x="105.50" y="4548.54" width="4.36" height="4.36"/><rect x="122.54" y="4548.54" width="12.88" height="4.36"/><rect x="139.58" y="4548.54" width="8.62" height="4.36"/><rect x="160.88" y="4548.54" width="4.36" height="4.36"/><rect x="169.40" y="4548.54" width="8.62" height="4.36"/><rect x="41.60" y="4552.80" width="8.62" height="4.36"/><rect x="58.64" y="4552.80" width="12.88" height="4.36"/><rect x="75.68" y="4552.80" width="8.62" height="4.36"/><rect x="105.50" y="4552.80" width="4.36" height="4.36"/><rect x="114.02" y="4552.80" width="12.88" height="4.36"/><rect x="135.32" y="4552.80" width="29.92" height="4.36"/><rect x="45.86" y="4557.06" width="4.36" height="4.36"/><rect x="58.64" y="4557.06" width="8.62" height="4.36"/><rect x="92.72" y="4557.06" width="4.36" height="4.36"/><rect x="105.50" y="4557.06" width="8.62" height="4.36"/><rect x="122.54" y="4557.06" width="4.36" height="4.36"/><rect x="131.06" y="4557.06" width="4.36" height="4.36"/><rect x="143.84" y="4557.06" width="8.62" height="4.36"/><rect x="165.14" y="4557.06" width="8.62" height="4.36"/><rect x="62.90" y="4561.32" width="4.36" height="4.36"/><rect x="114.02" y="4561.32" width="12.88" height="4.36"/><rect x="135.32" y="4561.32" width="21.40" height="4.36"/><rect x="160.88" y="4561.32" width="12.88" height="4.36"/><rect x="41.60" y="4565.58" width="12.88" height="4.36"/><rect x="62.90" y="4565.58" width="21.40" height="4.36"/><rect x="92.72" y="4565.58" width="17.14" height="4.36"/><rect x="114.02" y="4565.58" width="4.36" height="4.36"/><rect x="131.06" y="4565.58" width="4.36" height="4.36"/><rect x="143.84" y="4565.58" width="4.36" height="4.36"/><rect x="160.88" y="4565.58" width="8.62" height="4.36"/><rect x="177.92" y="4565.58" width="4.36" height="4.36"/><rect x="50.12" y="4569.84" width="4.36" height="4.36"/><rect x="62.90" y="4569.84" width="8.62" height="4.36"/><rect x="75.68" y="4569.84" width="4.36" height="4.36"/><rect x="92.72" y="4569.84" width="17.14" height="4.36"/><rect x="126.80" y="4569.84" width="4.36" height="4.36"/><rect x="135.32" y="4569.84" width="4.36" height="4.36"/><rect x="143.84" y="4569.84" width="25.66" height="4.36"/><rect x="173.66" y="4569.84" width="4.36" height="4.36"/><rect x="75.68" y="4574.10" width="4.36" height="4.36"/><rect x="84.20" y="4574.10" width="4.36" height="4.36"/><rect x="96.98" y="4574.10" width="4.36" height="4.36"/><rect x="105.50" y="4574.10" width="21.40" height="4.36"/><rect x="131.06" y="4574.10" width="4.36" height="4.36"/><rect x="139.58" y="4574.10" width="8.62" height="4.36"/><rect x="160.88" y="4574.10" width="12.88" height="4.36"/><rect x="177.92" y="4574.10" width="4.36" height="4.36"/><rect x="41.60" y="4578.36" width="29.92" height="4.36"/><rect x="75.68" y="4578.36" width="4.36" height="4.36"/><rect x="84.20" y="4578.36" width="12.88" height="4.36"/><rect x="101.24" y="4578.36" width="8.62" height="4.36"/><rect x="114.02" y="4578.36" width="4.36" height="4.36"/><rect x="131.06" y="4578.36" width="4.36" height="4.36"/><rect x="139.58" y="4578.36" width="8.62" height="4.36"/><rect x="152.36" y="4578.36" width="4.36" height="4.36"/><rect x="160.88" y="4578.36" width="8.62" height="4.36"/><rect x="177.92" y="4578.36" width="4.36" height="4.36"/><rect x="41.60" y="4582.62" width="4.36" height="4.36"/><rect x="67.16" y="4582.62" width="4.36" height="4.36"/><rect x="88.46" y="4582.62" width="21.40" height="4.36"/><rect x="131.06" y="4582.62" width="17.14" height="4.36"/><rect x="160.88" y="4582.62" width="4.36" height="4.36"/><rect x="173.66" y="4582.62" width="4.36" height="4.36"/><rect x="41.60" y="4586.88" width="4.36" height="4.36"/><rect x="50.12" y="4586.88" width="12.88" height="4.36"/><rect x="67.16" y="4586.88" width="4.36" height="4.36"/><rect x="84.20" y="4586.88" width="4.36" height="4.36"/><rect x="96.98" y="4586.88" width="12.88" height="4.36"/><rect x="118.28" y="4586.88" width="4.36" height="4.36"/><rect x="126.80" y="4586.88" width="12.88" height="4.36"/><rect x="143.84" y="4586.88" width="25.66" height="4.36"/><rect x="41.60" y="4591.14" width="4.36" height="4.36"/><rect x="50.12" y="4591.14" width="12.88" height="4.36"/><rect x="67.16" y="4591.14" width="4.36" height="4.36"/><rect x="75.68" y="4591.14" width="4.36" height="4.36"/><rect x="84.20" y="4591.14" width="12.88" height="4.36"/><rect x="109.76" y="4591.14" width="4.36" height="4.36"/><rect x="122.54" y="4591.14" width="4.36" height="4.36"/><rect x="135.32" y="4591.14" width="21.40" height="4.36"/><rect x="160.88" y="4591.14" width="4.36" height="4.36"/><rect x="169.40" y="4591.14" width="4.36" height="4.36"/><rect x="177.92" y="4591.14" width="4.36" height="4.36"/><rect x="41.60" y="4595.40" width="4.36" height="4.36"/><rect x="50.12" y="4595.40" width="12.88" height="4.36"/><rect x="67.16" y="4595.40" width="4.36" height="4.36"/><rect x="109.76" y="4595.40" width="8.62" height="4.36"/><rect x="135.32" y="4595.40" width="4.36" height="4.36"/><rect x="143.84" y="4595.40" width="8.62" height="4.36"/><rect x="173.66" y="4595.40" width="4.36" height="4.36"/><rect x="41.60" y="4599.66" width="4.36" height="4.36"/><rect x="67.16" y="4599.66" width="4.36" height="4.36"/><rect x="75.68" y="4599.66" width="21.40" height="4.36"/><rect x="114.02" y="4599.66" width="4.36" height="4.36"/><rect x="122.54" y="4599.66" width="4.36" height="4.36"/><rect x="139.58" y="4599.66" width="4.36" height="4.36"/><rect x="148.10" y="4599.66" width="4.36" height="4.36"/><rect x="160.88" y="4599.66" width="21.40" height="4.36"/><rect x="41.60" y="4603.92" width="29.92" height="4.36"/><rect x="75.68" y="4603.92" width="4.36" height="4.36"/><rect x="96.98" y="4603.92" width="8.62" height="4.36"/><rect x="114.02" y="4603.92" width="4.36" height="4.36"/><rect x="122.54" y="4603.92" width="4.36" height="4.36"/><rect x="131.06" y="4603.92" width="4.36" height="4.36"/><rect x="143.84" y="4603.92" width="4.36" height="4.36"/><rect x="152.36" y="4603.92" width="4.36" height="4.36"/><rect x="160.88" y="4603.92" width="8.62" height="4.36"/><rect x="173.66" y="4603.92" width="4.36" height="4.36"/></g><rect x="93" y="4515.5" width="34" height="34" rx="3" fill="#fff"/><rect x="94.5" y="4517" width="31" height="31" rx="2" fill="#1d72d8"/><path d="M97,4537 Q110,4533 123,4537" stroke="#fff" stroke-width="1" fill="none"/><path d="M212,4569.5 L226.5,4569.5 M212,4569.5 L217.5,4564.5 M212,4569.5 L217.5,4574.5" stroke="#fff" stroke-width="2" fill="none"/></svg>
<div class="t" style="left:97.5px;top:4519px;font-size:13px;color:#fff;font-weight:bold;z-index:7">炫闻</div>
<div class="t" style="left:102px;top:4539.5px;font-size:6px;color:#fff;z-index:7">新华网</div>
<svg class="full" width="640" height="4650" viewBox="0 0 640 4650" xmlns="http://www.w3.org/2000/svg"><line x1="0" y1="446" x2="640" y2="446" stroke="#5f95d6" stroke-opacity="0.13" stroke-width="1"/><line x1="0" y1="1274" x2="640" y2="1274" stroke="#5f95d6" stroke-opacity="0.13" stroke-width="1"/><line x1="0" y1="1867" x2="640" y2="1867" stroke="#5f95d6" stroke-opacity="0.13" stroke-width="1"/><line x1="0" y1="2426" x2="640" y2="2426" stroke="#5f95d6" stroke-opacity="0.13" stroke-width="1"/><line x1="0" y1="3402" x2="640" y2="3402" stroke="#5f95d6" stroke-opacity="0.13" stroke-width="1"/><line x1="0" y1="3650" x2="640" y2="3650" stroke="#5f95d6" stroke-opacity="0.13" stroke-width="1"/><line x1="0" y1="3895" x2="640" y2="3895" stroke="#5f95d6" stroke-opacity="0.13" stroke-width="1"/><line x1="0" y1="4415" x2="640" y2="4415" stroke="#5f95d6" stroke-opacity="0.13" stroke-width="1"/><line x1="36" y1="0" x2="36" y2="4427" stroke="#5f95d6" stroke-opacity="0.05" stroke-width="1"/><line x1="117" y1="0" x2="117" y2="4427" stroke="#5f95d6" stroke-opacity="0.05" stroke-width="1"/><line x1="198" y1="0" x2="198" y2="4427" stroke="#5f95d6" stroke-opacity="0.05" stroke-width="1"/><line x1="279" y1="0" x2="279" y2="4427" stroke="#5f95d6" stroke-opacity="0.05" stroke-width="1"/><line x1="360" y1="0" x2="360" y2="4427" stroke="#5f95d6" stroke-opacity="0.05" stroke-width="1"/><line x1="441" y1="0" x2="441" y2="4427" stroke="#5f95d6" stroke-opacity="0.05" stroke-width="1"/><line x1="522" y1="0" x2="522" y2="4427" stroke="#5f95d6" stroke-opacity="0.05" stroke-width="1"/><line x1="603" y1="0" x2="603" y2="4427" stroke="#5f95d6" stroke-opacity="0.05" stroke-width="1"/><g stroke="#2a9fd4" stroke-width="1.6" fill="none" stroke-linejoin="miter"><polyline points="342,2 510,170"/><polyline points="374,176 550,0"/><polyline points="398,124 470,52"/><polyline points="446,0 640,194"/><polyline points="478,0 640,162"/><polyline points="505,0 560,55 600,15"/><polyline points="540,0 640,100"/><polyline points="432,50 520,138 560,98"/><polyline points="470,56 560,146"/><polyline points="420,100 465,55"/><polyline points="410,160 520,50 570,100 600,70"/><polyline points="440,178 560,58"/><polyline points="560,0 640,80"/><polyline points="600,0 640,40"/><polyline points="480,90 570,0"/><polyline points="500,150 640,10"/><polyline points="540,205 640,105"/><polyline points="520,170 580,230"/><polyline points="560,150 640,230"/><polyline points="575,40 540,75 600,135 640,95"/><polyline points="610,120 580,150 620,190"/><polyline points="495,120 450,165 470,185"/><polyline points="590,185 560,215 585,240"/><polyline points="520,230 550,200"/></g><polygon points="510.0,170.0 502.0,166.7 506.7,162.0" fill="#2a9fd4"/><polygon points="398.0,124.0 401.3,116.0 406.0,120.7" fill="#2a9fd4"/><polygon points="470.0,52.0 466.7,60.0 462.0,55.3" fill="#2a9fd4"/><polygon points="520.0,50.0 516.7,58.0 512.0,53.3" fill="#2a9fd4"/><polygon points="466.0,56.0 474.0,59.3 469.3,64.0" fill="#2a9fd4"/><polygon points="560.0,146.0 552.0,142.7 556.7,138.0" fill="#2a9fd4"/><polygon points="575.0,40.0 583.0,43.3 578.3,48.0" fill="#2a9fd4"/><polygon points="580.0,230.0 572.0,226.7 576.7,222.0" fill="#2a9fd4"/><polygon points="600.0,70.0 596.7,78.0 592.0,73.3" fill="#2a9fd4"/><rect x="54" y="43" width="77.5" height="1.2" fill="#fff"/><path d="M54.4,46.8 L62.5,46.8 L75,70 L75,46.8 L82.6,46.8 L82.6,73.5 L75.5,73.5 L75.5,86.5 L69,86.5 L61,70 L61,86.5 L54.4,86.5 Z" fill="#fff"/><path d="M107,86 C118,75 134,67 154,65 C138,69 124,77 112,88 Z" fill="#fff"/><path d="M120,77 C132,70 142,67 155,66" stroke="#fff" stroke-width="1.2" fill="none"/><path d="M126,75 C136,70 146,68.5 156,68.5" stroke="#fff" stroke-width="0.8" fill="none"/><line x1="31" y1="336.5" x2="611" y2="336.5" stroke="#2a9fd6" stroke-width="1.5"/><line x1="148" y1="642.5" x2="189" y2="642.5" stroke="#13e4fd" stroke-width="1.5"/><line x1="452" y1="642.5" x2="496" y2="642.5" stroke="#13e4fd" stroke-width="1.5"/><line x1="154" y1="666" x2="485" y2="666" stroke="#13e4fd" stroke-width="1.5"/><g transform="translate(203.00,809)" fill="#13e4fd"><circle cx="21.5" cy="14.1" r="6.4"/><path d="M13.4,30 Q13.4,21.8 21.8,21.8 Q30.3,21.8 30.3,30 L30.3,46 L37.3,66.2 L30.6,66.2 L22,52.5 L13.6,66.2 L7.4,66.2 L13.6,46.5 Z"/><path d="M14.2,26.5 L17.2,31.5 L6.2,41.8 L2.6,37.6 Z"/><path d="M32.7,43 L32.7,27.4 Q32.7,20.4 39.75,20.4 Q46.8,20.4 46.8,27.4 L46.8,43 Z"/></g><g transform="translate(249.00,809)" fill="#ff3d8b"><circle cx="21.8" cy="14.1" r="6.4"/><path d="M13.4,46 L13.4,30 Q13.4,21.8 22,21.8 Q30.7,21.8 30.7,30 L30.7,46 Z"/><path d="M14.1,47.6 L30.3,47.6 L34.5,56.3 L10.6,56.3 Z"/><path d="M10,57.7 L19,57.7 L14.8,66.2 L7,66.2 Z"/><path d="M26,57.7 L33.8,57.7 L38,66.2 L30.3,66.2 Z"/><path d="M14.2,26.5 L17.2,31.5 L6.2,41.8 L2.6,37.6 Z"/><path d="M33.1,43 L33.1,27.4 Q33.1,20.4 40.15,20.4 Q47.2,20.4 47.2,27.4 L47.2,43 Z"/></g><g transform="translate(295.60,809)" fill="#13e4fd"><circle cx="21.5" cy="14.1" r="6.4"/><path d="M13.4,30 Q13.4,21.8 21.8,21.8 Q30.3,21.8 30.3,30 L30.3,46 L37.3,66.2 L30.6,66.2 L22,52.5 L13.6,66.2 L7.4,66.2 L13.6,46.5 Z"/><path d="M14.2,26.5 L17.2,31.5 L6.2,41.8 L2.6,37.6 Z"/><path d="M32.7,43 L32.7,27.4 Q32.7,20.4 39.75,20.4 Q46.8,20.4 46.8,27.4 L46.8,43 Z"/></g><g transform="translate(341.60,809)" fill="#ff3d8b"><circle cx="21.8" cy="14.1" r="6.4"/><path d="M13.4,46 L13.4,30 Q13.4,21.8 22,21.8 Q30.7,21.8 30.7,30 L30.7,46 Z"/><path d="M14.1,47.6 L30.3,47.6 L34.5,56.3 L10.6,56.3 Z"/><path d="M10,57.7 L19,57.7 L14.8,66.2 L7,66.2 Z"/><path d="M26,57.7 L33.8,57.7 L38,66.2 L30.3,66.2 Z"/><path d="M14.2,26.5 L17.2,31.5 L6.2,41.8 L2.6,37.6 Z"/><path d="M33.1,43 L33.1,27.4 Q33.1,20.4 40.15,20.4 Q47.2,20.4 47.2,27.4 L47.2,43 Z"/></g><g transform="translate(203.00,885)" fill="#13e4fd"><circle cx="21.5" cy="14.1" r="6.4"/><path d="M13.4,30 Q13.4,21.8 21.8,21.8 Q30.3,21.8 30.3,30 L30.3,46 L37.3,66.2 L30.6,66.2 L22,52.5 L13.6,66.2 L7.4,66.2 L13.6,46.5 Z"/><path d="M14.2,26.5 L17.2,31.5 L6.2,41.8 L2.6,37.6 Z"/><path d="M32.7,43 L32.7,27.4 Q32.7,20.4 39.75,20.4 Q46.8,20.4 46.8,27.4 L46.8,43 Z"/></g><g transform="translate(249.00,885)" fill="#ff3d8b"><circle cx="21.8" cy="14.1" r="6.4"/><path d="M13.4,46 L13.4,30 Q13.4,21.8 22,21.8 Q30.7,21.8 30.7,30 L30.7,46 Z"/><path d="M14.1,47.6 L30.3,47.6 L34.5,56.3 L10.6,56.3 Z"/><path d="M10,57.7 L19,57.7 L14.8,66.2 L7,66.2 Z"/><path d="M26,57.7 L33.8,57.7 L38,66.2 L30.3,66.2 Z"/><path d="M14.2,26.5 L17.2,31.5 L6.2,41.8 L2.6,37.6 Z"/><path d="M33.1,43 L33.1,27.4 Q33.1,20.4 40.15,20.4 Q47.2,20.4 47.2,27.4 L47.2,43 Z"/></g><g transform="translate(295.60,885)" fill="#13e4fd"><circle cx="21.5" cy="14.1" r="6.4"/><path d="M13.4,30 Q13.4,21.8 21.8,21.8 Q30.3,21.8 30.3,30 L30.3,46 L37.3,66.2 L30.6,66.2 L22,52.5 L13.6,66.2 L7.4,66.2 L13.6,46.5 Z"/><path d="M14.2,26.5 L17.2,31.5 L6.2,41.8 L2.6,37.6 Z"/><path d="M32.7,43 L32.7,27.4 Q32.7,20.4 39.75,20.4 Q46.8,20.4 46.8,27.4 L46.8,43 Z"/></g><g transform="translate(341.60,885)" fill="#ff3d8b"><circle cx="21.8" cy="14.1" r="6.4"/><path d="M13.4,46 L13.4,30 Q13.4,21.8 22,21.8 Q30.7,21.8 30.7,30 L30.7,46 Z"/><path d="M14.1,47.6 L30.3,47.6 L34.5,56.3 L10.6,56.3 Z"/><path d="M10,57.7 L19,57.7 L14.8,66.2 L7,66.2 Z"/><path d="M26,57.7 L33.8,57.7 L38,66.2 L30.3,66.2 Z"/><path d="M14.2,26.5 L17.2,31.5 L6.2,41.8 L2.6,37.6 Z"/><path d="M33.1,43 L33.1,27.4 Q33.1,20.4 40.15,20.4 Q47.2,20.4 47.2,27.4 L47.2,43 Z"/></g><g transform="translate(388.20,885)" fill="#13e4fd"><circle cx="21.5" cy="14.1" r="6.4"/><path d="M13.4,30 Q13.4,21.8 21.8,21.8 Q30.3,21.8 30.3,30 L30.3,46 L37.3,66.2 L30.6,66.2 L22,52.5 L13.6,66.2 L7.4,66.2 L13.6,46.5 Z"/><path d="M14.2,26.5 L17.2,31.5 L6.2,41.8 L2.6,37.6 Z"/><path d="M32.7,43 L32.7,27.4 Q32.7,20.4 39.75,20.4 Q46.8,20.4 46.8,27.4 L46.8,43 Z"/></g><circle cx="431.6" cy="850.3" r="7.2" fill="none" stroke="#13e4fd" stroke-width="1.2"/><path d="M432.67,847.02 A3.45,3.45 0 1 1 430.53,847.02" fill="none" stroke="#13e4fd" stroke-width="2.9"/><polyline points="437.47,846.13 480.4,815.6 562,815.6" fill="none" stroke="#13e4fd" stroke-width="1.4"/><circle cx="472.7" cy="928.9" r="7.2" fill="none" stroke="#13e4fd" stroke-width="1.2"/><path d="M473.77,925.62 A3.45,3.45 0 1 1 471.63,925.62" fill="none" stroke="#13e4fd" stroke-width="2.9"/><polyline points="478.21,924.27 513,895 603,895" fill="none" stroke="#13e4fd" stroke-width="1.4"/><path d="M24.8,910 L48.8,910 L48.8,917.5 Q36.8,911.5 24.8,917.5 Z" fill="#13e4fd"/><path d="M24.8,1051.5 Q36.8,1057.5 48.8,1051.5 L48.8,1059.0 L24.8,1059.0 Z" fill="#13e4fd"/><circle cx="176.7" cy="1114.6" r="85" fill="#13e4fd"/><path d="M176.7,1114.6 L176.7,1029.6 A85,85 0 1 1 107.93,1164.56 Z" fill="#ff3d8b"/><circle cx="204.4" cy="1076.6" r="7.2" fill="none" stroke="#13e4fd" stroke-width="1.2"/><path d="M205.47,1073.32 A3.45,3.45 0 1 1 203.33,1073.32" fill="none" stroke="#13e4fd" stroke-width="2.9"/><polyline points="210.31,1072.49 257.6,1039.6 332,1039.6" fill="none" stroke="#13e4fd" stroke-width="1.4"/><circle cx="440.6" cy="1114.6" r="85" fill="#13e4fd"/><path d="M440.6,1114.6 L440.6,1029.6 A85,85 0 1 1 355.60,1114.60 Z" fill="#fdfd6b"/><circle cx="466" cy="1076.5" r="7.2" fill="none" stroke="#13e4fd" stroke-width="1.2"/><path d="M467.07,1073.22 A3.45,3.45 0 1 1 464.93,1073.22" fill="none" stroke="#13e4fd" stroke-width="2.9"/><polyline points="470.89,1071.21 501.7,1037.9 600,1037.9" fill="none" stroke="#13e4fd" stroke-width="1.4"/><circle cx="436.6" cy="1367.6" r="7.2" fill="none" stroke="#13e4fd" stroke-width="1.2"/><path d="M437.67,1364.32 A3.45,3.45 0 1 1 435.53,1364.32" fill="none" stroke="#13e4fd" stroke-width="2.9"/><polyline points="442.53,1363.52 487.3,1332.7 571.8,1332.7" fill="none" stroke="#13e4fd" stroke-width="1.4"/><g transform="translate(203.00,1385)" fill="#13e4fd"><circle cx="21.5" cy="14.1" r="6.4"/><path d="M13.4,30 Q13.4,21.8 21.8,21.8 Q30.3,21.8 30.3,30 L30.3,46 L37.3,66.2 L30.6,66.2 L22,52.5 L13.6,66.2 L7.4,66.2 L13.6,46.5 Z"/><path d="M14.2,26.5 L17.2,31.5 L6.2,41.8 L2.6,37.6 Z"/><path d="M32.7,43 L32.7,27.4 Q32.7,20.4 39.75,20.4 Q46.8,20.4 46.8,27.4 L46.8,43 Z"/></g><g transform="translate(249.00,1385)" fill="#ff3d8b"><circle cx="21.8" cy="14.1" r="6.4"/><path d="M13.4,46 L13.4,30 Q13.4,21.8 22,21.8 Q30.7,21.8 30.7,30 L30.7,46 Z"/><path d="M14.1,47.6 L30.3,47.6 L34.5,56.3 L10.6,56.3 Z"/><path d="M10,57.7 L19,57.7 L14.8,66.2 L7,66.2 Z"/><path d="M26,57.7 L33.8,57.7 L38,66.2 L30.3,66.2 Z"/><path d="M14.2,26.5 L17.2,31.5 L6.2,41.8 L2.6,37.6 Z"/><path d="M33.1,43 L33.1,27.4 Q33.1,20.4 40.15,20.4 Q47.2,20.4 47.2,27.4 L47.2,43 Z"/></g><g transform="translate(295.60,1385)" fill="#13e4fd"><circle cx="21.5" cy="14.1" r="6.4"/><path d="M13.4,30 Q13.4,21.8 21.8,21.8 Q30.3,21.8 30.3,30 L30.3,46 L37.3,66.2 L30.6,66.2 L22,52.5 L13.6,66.2 L7.4,66.2 L13.6,46.5 Z"/><path d="M14.2,26.5 L17.2,31.5 L6.2,41.8 L2.6,37.6 Z"/><path d="M32.7,43 L32.7,27.4 Q32.7,20.4 39.75,20.4 Q46.8,20.4 46.8,27.4 L46.8,43 Z"/></g><g transform="translate(341.60,1385)" fill="#ff3d8b"><circle cx="21.8" cy="14.1" r="6.4"/><path d="M13.4,46 L13.4,30 Q13.4,21.8 22,21.8 Q30.7,21.8 30.7,30 L30.7,46 Z"/><path d="M14.1,47.6 L30.3,47.6 L34.5,56.3 L10.6,56.3 Z"/><path d="M10,57.7 L19,57.7 L14.8,66.2 L7,66.2 Z"/><path d="M26,57.7 L33.8,57.7 L38,66.2 L30.3,66.2 Z"/><path d="M14.2,26.5 L17.2,31.5 L6.2,41.8 L2.6,37.6 Z"/><path d="M33.1,43 L33.1,27.4 Q33.1,20.4 40.15,20.4 Q47.2,20.4 47.2,27.4 L47.2,43 Z"/></g><g transform="translate(388.20,1385)" fill="#13e4fd"><circle cx="21.5" cy="14.1" r="6.4"/><path d="M13.4,30 Q13.4,21.8 21.8,21.8 Q30.3,21.8 30.3,30 L30.3,46 L37.3,66.2 L30.6,66.2 L22,52.5 L13.6,66.2 L7.4,66.2 L13.6,46.5 Z"/><path d="M14.2,26.5 L17.2,31.5 L6.2,41.8 L2.6,37.6 Z"/><path d="M32.7,43 L32.7,27.4 Q32.7,20.4 39.75,20.4 Q46.8,20.4 46.8,27.4 L46.8,43 Z"/></g><g transform="translate(434.20,1385)" fill="#ff3d8b"><circle cx="21.8" cy="14.1" r="6.4"/><path d="M13.4,46 L13.4,30 Q13.4,21.8 22,21.8 Q30.7,21.8 30.7,30 L30.7,46 Z"/><path d="M14.1,47.6 L30.3,47.6 L34.5,56.3 L10.6,56.3 Z"/><path d="M10,57.7 L19,57.7 L14.8,66.2 L7,66.2 Z"/><path d="M26,57.7 L33.8,57.7 L38,66.2 L30.3,66.2 Z"/><path d="M14.2,26.5 L17.2,31.5 L6.2,41.8 L2.6,37.6 Z"/><path d="M33.1,43 L33.1,27.4 Q33.1,20.4 40.15,20.4 Q47.2,20.4 47.2,27.4 L47.2,43 Z"/></g><g transform="translate(480.80,1385)" fill="#13e4fd"><circle cx="21.5" cy="14.1" r="6.4"/><path d="M13.4,30 Q13.4,21.8 21.8,21.8 Q30.3,21.8 30.3,30 L30.3,46 L37.3,66.2 L30.6,66.2 L22,52.5 L13.6,66.2 L7.4,66.2 L13.6,46.5 Z"/><path d="M14.2,26.5 L17.2,31.5 L6.2,41.8 L2.6,37.6 Z"/><path d="M32.7,43 L32.7,27.4 Q32.7,20.4 39.75,20.4 Q46.8,20.4 46.8,27.4 L46.8,43 Z"/></g><g transform="translate(526.80,1385)" fill="#ff3d8b"><circle cx="21.8" cy="14.1" r="6.4"/><path d="M13.4,46 L13.4,30 Q13.4,21.8 22,21.8 Q30.7,21.8 30.7,30 L30.7,46 Z"/><path d="M14.1,47.6 L30.3,47.6 L34.5,56.3 L10.6,56.3 Z"/><path d="M10,57.7 L19,57.7 L14.8,66.2 L7,66.2 Z"/><path d="M26,57.7 L33.8,57.7 L38,66.2 L30.3,66.2 Z"/><path d="M14.2,26.5 L17.2,31.5 L6.2,41.8 L2.6,37.6 Z"/><path d="M33.1,43 L33.1,27.4 Q33.1,20.4 40.15,20.4 Q47.2,20.4 47.2,27.4 L47.2,43 Z"/></g><g transform="translate(203.00,1464)" fill="#13e4fd"><circle cx="21.5" cy="14.1" r="6.4"/><path d="M13.4,30 Q13.4,21.8 21.8,21.8 Q30.3,21.8 30.3,30 L30.3,46 L37.3,66.2 L30.6,66.2 L22,52.5 L13.6,66.2 L7.4,66.2 L13.6,46.5 Z"/><path d="M14.2,26.5 L17.2,31.5 L6.2,41.8 L2.6,37.6 Z"/><path d="M32.7,43 L32.7,27.4 Q32.7,20.4 39.75,20.4 Q46.8,20.4 46.8,27.4 L46.8,43 Z"/></g><g transform="translate(249.00,1464)" fill="#ff3d8b"><circle cx="21.8" cy="14.1" r="6.4"/><path d="M13.4,46 L13.4,30 Q13.4,21.8 22,21.8 Q30.7,21.8 30.7,30 L30.7,46 Z"/><path d="M14.1,47.6 L30.3,47.6 L34.5,56.3 L10.6,56.3 Z"/><path d="M10,57.7 L19,57.7 L14.8,66.2 L7,66.2 Z"/><path d="M26,57.7 L33.8,57.7 L38,66.2 L30.3,66.2 Z"/><path d="M14.2,26.5 L17.2,31.5 L6.2,41.8 L2.6,37.6 Z"/><path d="M33.1,43 L33.1,27.4 Q33.1,20.4 40.15,20.4 Q47.2,20.4 47.2,27.4 L47.2,43 Z"/></g><g transform="translate(295.60,1464)" fill="#13e4fd"><circle cx="21.5" cy="14.1" r="6.4"/><path d="M13.4,30 Q13.4,21.8 21.8,21.8 Q30.3,21.8 30.3,30 L30.3,46 L37.3,66.2 L30.6,66.2 L22,52.5 L13.6,66.2 L7.4,66.2 L13.6,46.5 Z"/><path d="M14.2,26.5 L17.2,31.5 L6.2,41.8 L2.6,37.6 Z"/><path d="M32.7,43 L32.7,27.4 Q32.7,20.4 39.75,20.4 Q46.8,20.4 46.8,27.4 L46.8,43 Z"/></g><g transform="translate(341.60,1464)" fill="#ff3d8b"><circle cx="21.8" cy="14.1" r="6.4"/><path d="M13.4,46 L13.4,30 Q13.4,21.8 22,21.8 Q30.7,21.8 30.7,30 L30.7,46 Z"/><path d="M14.1,47.6 L30.3,47.6 L34.5,56.3 L10.6,56.3 Z"/><path d="M10,57.7 L19,57.7 L14.8,66.2 L7,66.2 Z"/><path d="M26,57.7 L33.8,57.7 L38,66.2 L30.3,66.2 Z"/><path d="M14.2,26.5 L17.2,31.5 L6.2,41.8 L2.6,37.6 Z"/><path d="M33.1,43 L33.1,27.4 Q33.1,20.4 40.15,20.4 Q47.2,20.4 47.2,27.4 L47.2,43 Z"/></g><g transform="translate(388.20,1464)" fill="#13e4fd"><circle cx="21.5" cy="14.1" r="6.4"/><path d="M13.4,30 Q13.4,21.8 21.8,21.8 Q30.3,21.8 30.3,30 L30.3,46 L37.3,66.2 L30.6,66.2 L22,52.5 L13.6,66.2 L7.4,66.2 L13.6,46.5 Z"/><path d="M14.2,26.5 L17.2,31.5 L6.2,41.8 L2.6,37.6 Z"/><path d="M32.7,43 L32.7,27.4 Q32.7,20.4 39.75,20.4 Q46.8,20.4 46.8,27.4 L46.8,43 Z"/></g><g transform="translate(434.20,1464)" fill="#ff3d8b"><circle cx="21.8" cy="14.1" r="6.4"/><path d="M13.4,46 L13.4,30 Q13.4,21.8 22,21.8 Q30.7,21.8 30.7,30 L30.7,46 Z"/><path d="M14.1,47.6 L30.3,47.6 L34.5,56.3 L10.6,56.3 Z"/><path d="M10,57.7 L19,57.7 L14.8,66.2 L7,66.2 Z"/><path d="M26,57.7 L33.8,57.7 L38,66.2 L30.3,66.2 Z"/><path d="M14.2,26.5 L17.2,31.5 L6.2,41.8 L2.6,37.6 Z"/><path d="M33.1,43 L33.1,27.4 Q33.1,20.4 40.15,20.4 Q47.2,20.4 47.2,27.4 L47.2,43 Z"/></g><g transform="translate(480.80,1464)" fill="#13e4fd"><circle cx="21.5" cy="14.1" r="6.4"/><path d="M13.4,30 Q13.4,21.8 21.8,21.8 Q30.3,21.8 30.3,30 L30.3,46 L37.3,66.2 L30.6,66.2 L22,52.5 L13.6,66.2 L7.4,66.2 L13.6,46.5 Z"/><path d="M14.2,26.5 L17.2,31.5 L6.2,41.8 L2.6,37.6 Z"/><path d="M32.7,43 L32.7,27.4 Q32.7,20.4 39.75,20.4 Q46.8,20.4 46.8,27.4 L46.8,43 Z"/></g><circle cx="435" cy="1555.4" r="7.2" fill="none" stroke="#13e4fd" stroke-width="1.2"/><path d="M436.07,1552.12 A3.45,3.45 0 1 1 433.93,1552.12" fill="none" stroke="#13e4fd" stroke-width="2.9"/><polyline points="440.75,1559.73 476,1586.3 566,1586.3" fill="none" stroke="#13e4fd" stroke-width="1.4"/><path d="M24.8,1480 L48.8,1480 L48.8,1487.5 Q36.8,1481.5 24.8,1487.5 Z" fill="#13e4fd"/><path d="M24.8,1672.7 Q36.8,1678.7 48.8,1672.7 L48.8,1680.2 L24.8,1680.2 Z" fill="#13e4fd"/><circle cx="176.7" cy="1726.7" r="85" fill="#ff3d8b"/><path d="M176.7,1726.7 L176.7,1641.7 A85,85 0 0 0 140.51,1649.79 Z" fill="#13e4fd"/><circle cx="204.4" cy="1687.5" r="7.2" fill="none" stroke="#13e4fd" stroke-width="1.2"/><path d="M205.47,1684.22 A3.45,3.45 0 1 1 203.33,1684.22" fill="none" stroke="#13e4fd" stroke-width="2.9"/><polyline points="210.31,1683.39 257.6,1650.5 343,1650.5" fill="none" stroke="#13e4fd" stroke-width="1.4"/><g fill="#13e4fd"><circle cx="214" cy="1934.6" r="6.8"/><rect x="199" y="1944" width="30" height="31.5"/><rect x="205" y="1975.5" width="18" height="31.5"/></g><g fill="#ff3d8b"><circle cx="250" cy="1934.6" r="6.8"/><rect x="235" y="1944" width="30" height="31.5"/><rect x="241" y="1975.5" width="18" height="31.5"/></g><g fill="#13e4fd"><circle cx="286" cy="1934.6" r="6.8"/><rect x="271" y="1944" width="30" height="31.5"/><rect x="277" y="1975.5" width="18" height="31.5"/></g><g fill="#ff3d8b"><circle cx="322" cy="1934.6" r="6.8"/><rect x="307" y="1944" width="30" height="31.5"/><rect x="313" y="1975.5" width="18" height="31.5"/></g><clipPath id="hc"><rect x="343" y="1924" width="18" height="90"/></clipPath><g fill="#13e4fd" clip-path="url(#hc)"><circle cx="358" cy="1934.6" r="6.8"/><rect x="343" y="1944" width="30" height="31.5"/><rect x="349" y="1975.5" width="18" height="31.5"/></g><g fill="#13e4fd"><circle cx="214" cy="2031.3" r="6.8"/><rect x="199" y="2040.7" width="30" height="31.5"/><rect x="205" y="2072.2" width="18" height="31.5"/></g><g fill="#ff3d8b"><circle cx="250" cy="2031.3" r="6.8"/><rect x="235" y="2040.7" width="30" height="31.5"/><rect x="241" y="2072.2" width="18" height="31.5"/></g><g fill="#13e4fd"><circle cx="286" cy="2031.3" r="6.8"/><rect x="271" y="2040.7" width="30" height="31.5"/><rect x="277" y="2072.2" width="18" height="31.5"/></g><g fill="#ff3d8b"><circle cx="322" cy="2031.3" r="6.8"/><rect x="307" y="2040.7" width="30" height="31.5"/><rect x="313" y="2072.2" width="18" height="31.5"/></g><circle cx="400.3" cy="1972.8" r="7.2" fill="none" stroke="#13e4fd" stroke-width="1.2"/><path d="M401.37,1969.52 A3.45,3.45 0 1 1 399.23,1969.52" fill="none" stroke="#13e4fd" stroke-width="2.9"/><polyline points="406.31,1968.83 451,1939.3 532,1939.3" fill="none" stroke="#13e4fd" stroke-width="1.4"/><circle cx="370.3" cy="2066" r="7.2" fill="none" stroke="#13e4fd" stroke-width="1.2"/><path d="M371.37,2062.72 A3.45,3.45 0 1 1 369.23,2062.72" fill="none" stroke="#13e4fd" stroke-width="2.9"/><polyline points="376.28,2061.99 421,2032 504.7,2032" fill="none" stroke="#13e4fd" stroke-width="1.4"/><path d="M24.8,2040 L48.8,2040 L48.8,2047.5 Q36.8,2041.5 24.8,2047.5 Z" fill="#13e4fd"/><path d="M24.8,2232.7 Q36.8,2238.7 48.8,2232.7 L48.8,2240.2 L24.8,2240.2 Z" fill="#13e4fd"/><circle cx="176.5" cy="2279" r="85" fill="#fdfd6b"/><path d="M176.5,2279 L176.5,2194 A85,85 0 0 0 114.54,2220.81 Z" fill="#13e4fd"/><circle cx="203.2" cy="2238.6" r="7.2" fill="none" stroke="#13e4fd" stroke-width="1.2"/><path d="M204.27,2235.32 A3.45,3.45 0 1 1 202.13,2235.32" fill="none" stroke="#13e4fd" stroke-width="2.9"/><polyline points="209.35,2234.85 259,2204.6 340,2204.6" fill="none" stroke="#13e4fd" stroke-width="1.4"/><rect x="193.5" y="2517.6" width="30" height="132.9000000000001" fill="#ff3d8b"/><rect x="232.7" y="2506.3" width="29.5" height="144.19999999999982" fill="#fdfd6b"/><rect x="416" y="2539.5" width="29.3" height="111.0" fill="#ff3d8b"/><rect x="455.2" y="2514.2" width="29.3" height="136.30000000000018" fill="#fdfd6b"/><line x1="147" y1="2657.3" x2="527" y2="2657.3" stroke="#13e4fd" stroke-width="1.5"/><circle cx="205.7" cy="2558" r="7.2" fill="none" stroke="#13e4fd" stroke-width="1.2"/><path d="M206.77,2554.72 A3.45,3.45 0 1 1 204.63,2554.72" fill="none" stroke="#13e4fd" stroke-width="2.9"/><polyline points="200.09,2553.49 164,2524.5 74,2524.5" fill="none" stroke="#13e4fd" stroke-width="1.4"/><circle cx="246.2" cy="2526.6" r="7.2" fill="none" stroke="#13e4fd" stroke-width="1.2"/><path d="M247.27,2523.32 A3.45,3.45 0 1 1 245.13,2523.32" fill="none" stroke="#13e4fd" stroke-width="2.9"/><polyline points="252.20,2522.62 295.8,2493.7 377,2493.7" fill="none" stroke="#13e4fd" stroke-width="1.4"/><circle cx="427" cy="2617" r="7.2" fill="none" stroke="#13e4fd" stroke-width="1.2"/><path d="M428.07,2613.72 A3.45,3.45 0 1 1 425.93,2613.72" fill="none" stroke="#13e4fd" stroke-width="2.9"/><polyline points="421.04,2612.97 377,2583.2 296,2583.2" fill="none" stroke="#13e4fd" stroke-width="1.4"/><circle cx="468.7" cy="2526.8" r="7.2" fill="none" stroke="#13e4fd" stroke-width="1.2"/><path d="M469.77,2523.52 A3.45,3.45 0 1 1 467.63,2523.52" fill="none" stroke="#13e4fd" stroke-width="2.9"/><polyline points="474.60,2522.67 516,2493.7 601,2493.7" fill="none" stroke="#13e4fd" stroke-width="1.4"/><rect x="310" y="2695" width="20" height="20" fill="#ff3d8b"/><rect x="532" y="2695" width="20" height="20" fill="#fdfd6b"/><path d="M24.8,2632 L48.8,2632 L48.8,2639.5 Q36.8,2633.5 24.8,2639.5 Z" fill="#13e4fd"/><path d="M24.8,2772 Q36.8,2778 48.8,2772 L48.8,2779.5 L24.8,2779.5 Z" fill="#13e4fd"/><circle cx="176.5" cy="2872.7" r="85" fill="#13e4fd"/><path d="M176.5,2872.7 L176.5,2787.7 A85,85 0 0 1 241.99,2926.88 Z" fill="#ff3d8b"/><circle cx="203.2" cy="2834.9" r="7.2" fill="none" stroke="#13e4fd" stroke-width="1.2"/><path d="M204.27,2831.62 A3.45,3.45 0 1 1 202.13,2831.62" fill="none" stroke="#13e4fd" stroke-width="2.9"/><polyline points="209.10,2830.78 258,2796.6 339.6,2796.6" fill="none" stroke="#13e4fd" stroke-width="1.4"/><circle cx="431.7" cy="2872.7" r="85" fill="#13e4fd"/><path d="M431.7,2872.7 L431.7,2787.7 A85,85 0 0 1 481.66,2941.47 Z" fill="#fdfd6b"/><circle cx="458.9" cy="2836.2" r="7.2" fill="none" stroke="#13e4fd" stroke-width="1.2"/><path d="M459.97,2832.92 A3.45,3.45 0 1 1 457.83,2832.92" fill="none" stroke="#13e4fd" stroke-width="2.9"/><polyline points="464.75,2832.00 511.6,2798.4 593.4,2798.4" fill="none" stroke="#13e4fd" stroke-width="1.4"/><line x1="148" y1="3113.7" x2="189" y2="3113.7" stroke="#13e4fd" stroke-width="1.5"/><line x1="452" y1="3113.7" x2="496" y2="3113.7" stroke="#13e4fd" stroke-width="1.5"/><line x1="154" y1="3136.2" x2="485" y2="3136.2" stroke="#13e4fd" stroke-width="1.5"/><polyline points="71.5,4217.7 600.4,4217.7 600.4,4355" fill="none" stroke="#13e4fd" stroke-width="1.5"/><polyline points="45.3,4237.5 45.3,4376.6 574,4376.6" fill="none" stroke="#13e4fd" stroke-width="1.5"/></svg>
</body></html>
